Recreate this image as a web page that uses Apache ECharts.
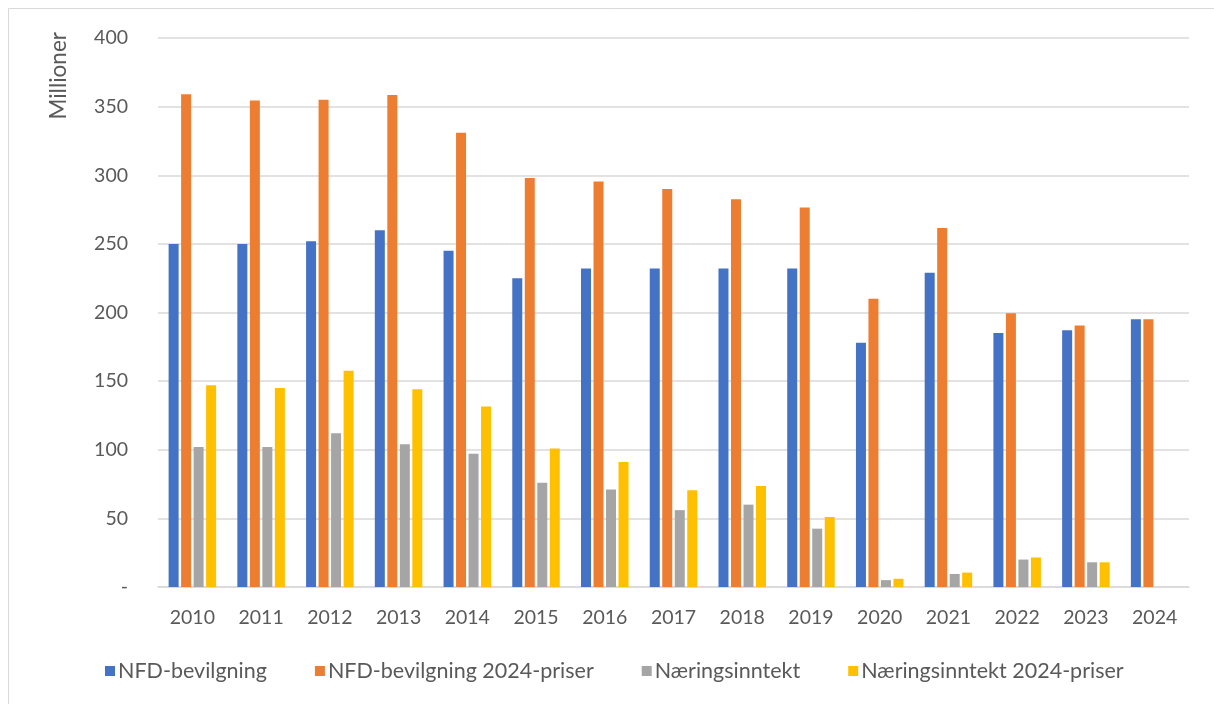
<!DOCTYPE html>
<html>

<head>
    <meta charset="UTF-8">
    <style type="text/css">
        body {
            margin: 0;
            padding: 0;
            overflow: hidden;
            background: #fff
        }

        #chart {
            height: 704px;
            width: 1214px;
            position: absolute
        }
    </style>
</head>

<body>
    <div id="chart"></div>
    <script src="https://cdn.jsdelivr.net/npm/echarts@6/dist/echarts.min.js"></script>
    <script>
        let years = ['2010', '2011', '2012', '2013', '2014', '2015', '2016', '2017', '2018', '2019', '2020', '2021', '2022', '2023', '2024'];
        let bevilgning = [250, 250, 252, 260, 245, 225, 232, 232, 232, 232, 178, 229, 185, 187, 195];
        let bevilgning2024 = [359, 354.5, 355, 358.5, 331, 298, 295.5, 290, 282.5, 276.5, 210, 261.5, 199.5, 190.5, 195];
        let inntekt = [102, 102, 112, 104, 97, 76, 71, 56, 60, 42.5, 5, 9.5, 20, 18, null];
        let inntekt2024 = [147, 145, 157.5, 144, 131.5, 101, 91, 70.5, 73.5, 51, 6, 10.5, 21.5, 18, null];

        let FONT = 'Lato, "Open Sans", sans-serif';
        let TEXT = '#595959';

        var myChart = echarts.init(document.getElementById('chart'));

        function bar(name, data, color) {
            return {
                name: name,
                type: 'bar',
                data: data,
                barWidth: 10,
                barGap: '25%',
                itemStyle: { color: color }
            };
        }

        let option = {
            animation: false,
            backgroundColor: '#fff',
            graphic: [{
                type: 'rect',
                shape: { x: 8.5, y: 8.5, width: 1230, height: 720 },
                style: { fill: 'none', stroke: '#d9d9d9', lineWidth: 1 }
            }],
            grid: {
                left: 158,
                right: 25,
                top: 38,
                bottom: 117
            },
            legend: {
                left: 100,
                top: 655,
                itemWidth: 10,
                itemHeight: 10,
                itemGap: 48,
                icon: 'rect',
                textStyle: { fontFamily: FONT, fontSize: 21.5, color: TEXT, padding: [0, 0, 0, -2] }
            },
            xAxis: {
                type: 'category',
                data: years,
                axisTick: { show: false },
                axisLine: { lineStyle: { color: '#d9d9d9', width: 1.5 } },
                axisLabel: { fontFamily: FONT, fontSize: 19.5, color: TEXT, margin: 21 }
            },
            yAxis: {
                type: 'value',
                min: 0,
                max: 400,
                interval: 50,
                name: 'Millioner',
                nameLocation: 'end',
                nameRotate: 90,
                nameGap: 6,
                nameTextStyle: { fontFamily: FONT, fontSize: 22.5, color: TEXT, align: 'right', verticalAlign: 'bottom', padding: [0, 0, 88, 0] },
                axisLine: { show: false },
                axisTick: { show: false },
                splitLine: { lineStyle: { color: '#d9d9d9', width: 1.5 } },
                axisLabel: {
                    fontFamily: FONT, fontSize: 19.5, color: TEXT, margin: 30,
                    formatter: function (v) {
                        return v === 0 ? '-' : String(v);
                    }
                }
            },
            series: [
                bar('NFD-bevilgning', bevilgning, '#4472C4'),
                bar('NFD-bevilgning 2024-priser', bevilgning2024, '#ED7D31'),
                bar('Næringsinntekt', inntekt, '#A5A5A5'),
                bar('Næringsinntekt 2024-priser', inntekt2024, '#FFC000')
            ]
        };
        myChart.setOption(option);
    </script>
</body>

</html>
